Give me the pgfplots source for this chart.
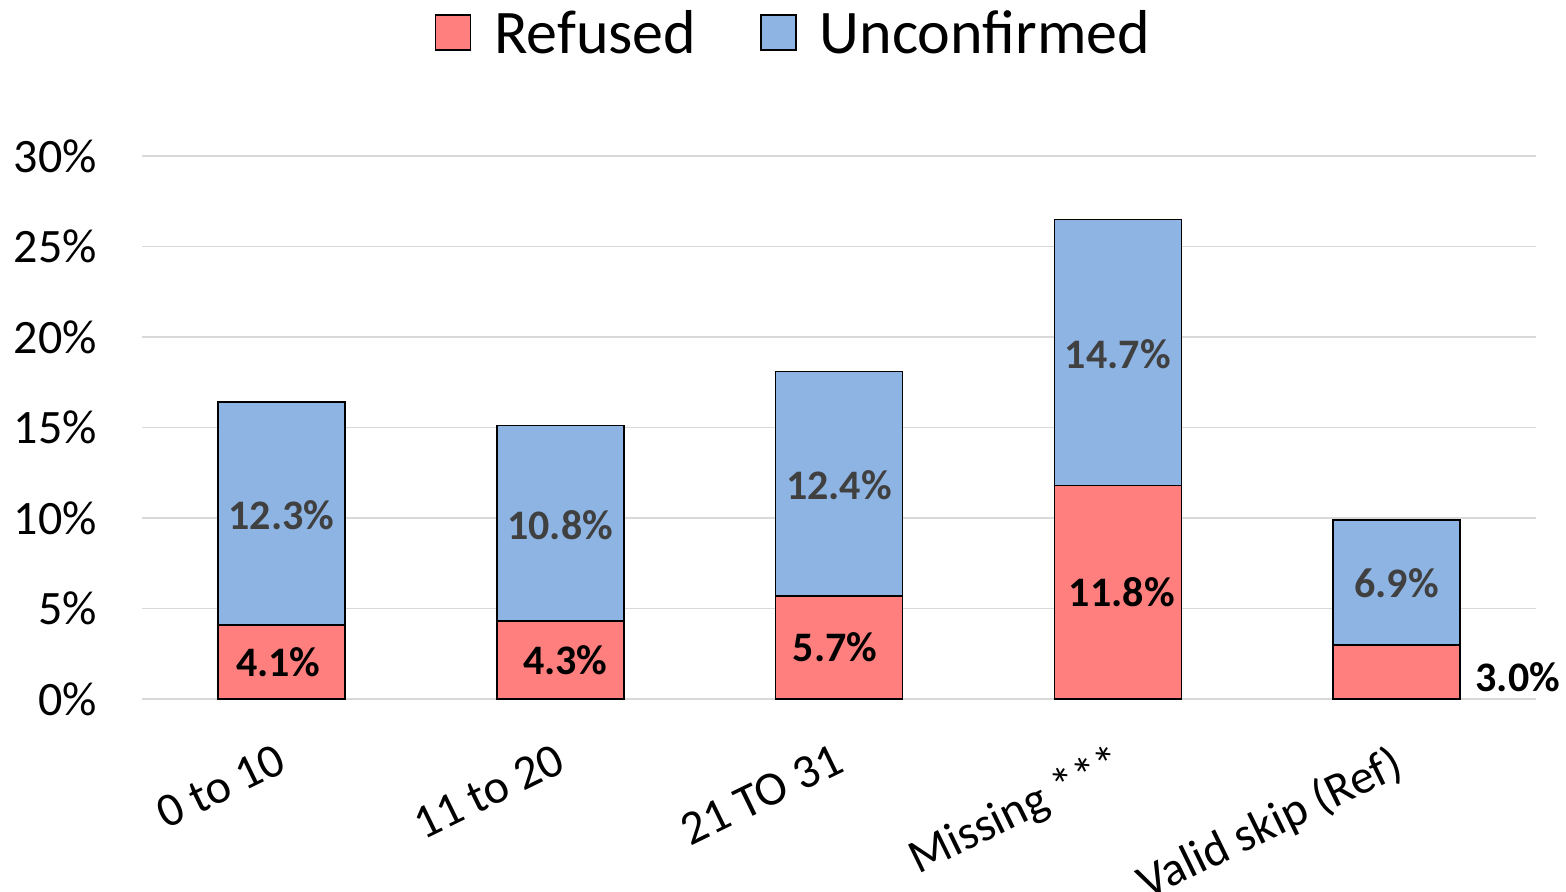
\documentclass[border=0pt]{standalone}
\usepackage{pgfplots}
\pgfplotsset{compat=1.18}
\usepackage{fontspec}
\setmainfont{Carlito}
\definecolor{refc}{HTML}{FF7F7F}
\definecolor{uncc}{HTML}{8EB4E3}
\definecolor{gridc}{HTML}{D9D9D9}
\definecolor{lblgray}{HTML}{404040}
\tikzset{vl/.style={font=\fontsize{21bp}{24bp}\selectfont\bfseries}}
\begin{document}
\begin{tikzpicture}
\begin{axis}[
  scale only axis,
  width=697bp, height=271.5bp,
  ybar stacked,
  bar width=63.5bp,
  xmin=-0.5, xmax=4.5,
  ymin=0, ymax=30,
  xtick={0,1,2,3,4},
  xticklabels={0 to 10, 11 to 20, 21 TO 31, Missing ***, Valid skip (Ref)},
  ytick={0,5,10,15,20,25,30},
  yticklabel={\pgfmathprintnumber{\tick}\%},
  /pgf/number format/assume math mode=true,
  axis line style={draw=none},
  major tick length=0pt,
  ymajorgrids,
  grid style={gridc, line width=0.8bp},
  tick label style={font=\fontsize{24bp}{28bp}\selectfont},
  yticklabel style={xshift=-19bp},
  xticklabel style={rotate=26, anchor=north east, yshift=-14.5bp, xshift=-9bp},
  legend style={at={(0.468,1.2265)}, anchor=center, draw=none,
    font=\fontsize{31bp}{36bp}\selectfont, legend columns=2,
    /tikz/every even column/.append style={column sep=30bp}},
  legend image code/.code={\draw[#1, line width=0.8bp] (0bp,-8.5bp) rectangle (17.5bp,9bp); \path (27bp,0bp);},
  clip=false,
]
\addplot[fill=refc, draw=black, line width=0.8bp] coordinates {(0,4.1) (1,4.3) (2,5.7) (3,11.8) (4,3.0)};
\addplot[fill=uncc, draw=black, line width=0.8bp] coordinates {(0,12.3) (1,10.8) (2,12.4) (3,14.7) (4,6.9)};
\legend{Refused, Unconfirmed}
\coordinate (r0) at (axis cs:0,2.05);
\coordinate (r1) at (axis cs:1,2.15);
\coordinate (r2) at (axis cs:2,2.85);
\coordinate (r3) at (axis cs:3,5.9);
\coordinate (r4) at (axis cs:4,1.2);
\coordinate (u0) at (axis cs:0,10.15);
\coordinate (u1) at (axis cs:1,9.6);
\coordinate (u2) at (axis cs:2,11.8);
\coordinate (u3) at (axis cs:3,19.05);
\coordinate (u4) at (axis cs:4,6.4);
\end{axis}
\node[vl, black, xshift=-1.5bp] at (r0) {4.1\%};
\node[vl, black, xshift=2.5bp] at (r1) {4.3\%};
\node[vl, black, xshift=-2bp] at (r2) {5.7\%};
\node[vl, black, xshift=2bp] at (r3) {11.8\%};
\node[vl, black, anchor=west, xshift=36bp] at (r4) {3.0\%};
\node[vl, lblgray] at (u0) {12.3\%};
\node[vl, lblgray] at (u1) {10.8\%};
\node[vl, lblgray] at (u2) {12.4\%};
\node[vl, lblgray] at (u3) {14.7\%};
\node[vl, lblgray] at (u4) {6.9\%};
\pgfresetboundingbox
\useasboundingbox ([shift={(-71bp,-96bp)}]current axis.south west) rectangle ([shift={(15bp,78bp)}]current axis.north east);
\end{tikzpicture}
\end{document}
